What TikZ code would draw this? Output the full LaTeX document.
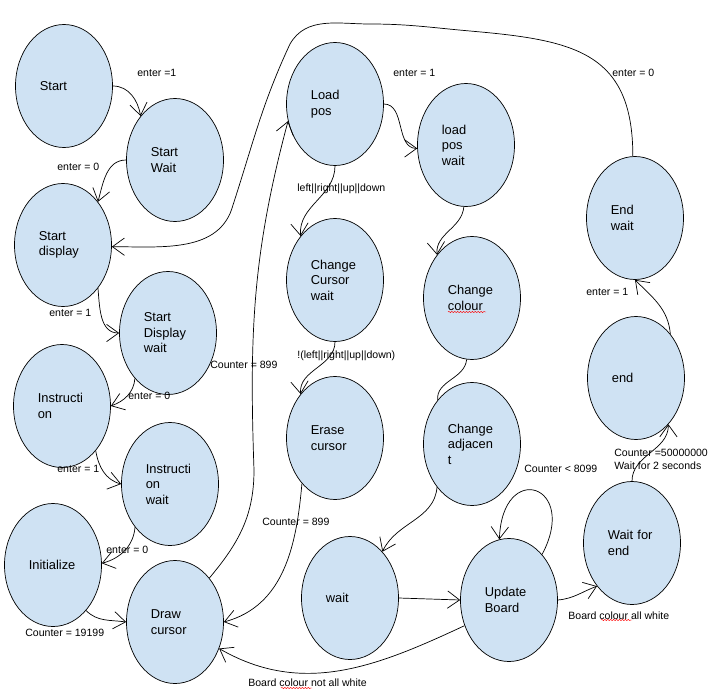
\documentclass[tikz,border=0pt]{standalone}
\usepackage{fontspec}
\setmainfont{Liberation Sans}
\usetikzlibrary{positioning, arrows.meta, shapes, decorations.pathmorphing}

\definecolor{statefill}{HTML}{CFE2F3}

\begin{document}
\begin{tikzpicture}[
		x=0.03cm, y=-0.03cm,
		every state/.style={ellipse, draw, line width=0.6pt, fill=statefill, minimum width=2.91cm, minimum height=3.69cm, text width=1.45cm, align=left, font=\fontsize{11}{13.2}\selectfont},
		cond/.style={anchor=west, inner sep=0pt, align=left, font=\fontsize{9}{11}\selectfont},
		spellerr/.style={red, line width=0.4pt, decorate, decoration={snake, amplitude=0.5pt, segment length=2.5pt}},
		every path/.style={line width=0.6pt},
		>={Straight Barb[length=3.6mm, width=5.2mm]}
	]

	\useasboundingbox (0,0) rectangle (722,694);

	\foreach \n/\x/\y/\t in {start/64/86/Start, start-wait/175/160/{Start\\Wait}, start-display/63/245/{Start\\display}, display-wait/168/333/{Start\\Display\\wait}, instruction/62/406/{Instructi\\on}, instruction-wait/170/484/{Instructi\\on\\wait}, initialize/53/565/Initialize, draw-cursor/175/622/{Draw\\cursor}, load-pos/335/104/{Load\\pos}, load-wait/466/145/{load\\pos\\wait}, cursor-wait/335/280/{Change\\Cursor\\wait}, erase-cursor/335/438/{Erase\\cursor}, change-colour/472/298/{Change\\colour}, change-adjacent/472/444/{Change\\adjacen\\t}, wait/350/598/wait, update-board/509/600/{Update\\Board}, wait-end/632/543/{Wait for\\end}, end-state/636/378/end, end-wait/635/218/{End\\wait}}
		\node [every state/.try] (\n) at (\x,\y) {\t};

	\foreach \x/\y/\t [count=\i] in {137/73/{enter =1}, 57/167/{enter = 0}, 49/313/{enter = 1}, 128/396/{enter = 0}, 57/469/{enter = 1}, 106/550/{enter = 0}, 25/633/{Counter = 19199}, 210/365/{Counter = 899}, 262/522/{Counter = 899}, 248/683/{Board colour not all white}, 393/73/{enter = 1}, 297/189/{left||right||up||down}, 297/356/{!(left||right||up||down)}, 524/469/{Counter < 8099}, 568/616/{Board colour all white}, 614/459/{Counter =50000000\\Wait for 2 seconds}, 586/292/{enter = 1}, 612/73/{enter = 0}}
		\node [cond] (cond-\i) at (\x,\y) {\t};

	\foreach \a/\b/\y in {448/486/312, 281/312/688, 601/632/620}
		\draw [spellerr] (\a,\y) -- (\b,\y);

	\draw [->] (start.0) to [out=0, in=100] (start-wait.128);
	\draw [->] (start-wait.180) to [out=180, in=75] (start-display.51);
	\draw [->] (start-display.-51) to [out=-85, in=180] (display-wait.180);
	\draw [->] (display-wait.234) to [out=265, in=20] (instruction.0);
	\draw [->] (instruction.-53) to [out=-80, in=165] (instruction-wait.180);
	\draw [->] (instruction-wait.231) to [out=265, in=15] (initialize.2);
	\draw [->] (initialize.-54) to [out=-45, in=172] (draw-cursor.180);
	\draw [->] (draw-cursor.52) to [out=50, in=270] (254,470) to [out=92, in=255] (load-pos.200);
	\draw [->] (load-pos.0) to [out=0, in=180] (load-wait.184);
	\draw [->] (load-pos.270) to [out=270, in=95] (cursor-wait.128);
	\draw [->] (load-wait.268) to [out=265, in=95] (change-colour.129);
	\draw [->] (cursor-wait.270) to [out=270, in=95] (erase-cursor.128);
	\draw [->] (erase-cursor.234) to [out=265, in=15] (draw-cursor.0);
	\draw (change-colour.265) to [out=265, in=95] (change-adjacent.128);
	\draw [->] (change-adjacent.231) to [out=265, in=65] (wait.55);
	\draw [->] (wait.0) -- (update-board.180);
	\draw [->] (update-board.54) to [out=62, in=88, looseness=4.5] (update-board.99);
	\draw [->] (update-board.210) to [out=205, in=-30] (draw-cursor.-31);
	\draw [->] (update-board.0) to [out=5, in=200] (wait-end.231);
	\draw [->] (wait-end.90) to [out=90, in=-90] (end-state.-55);
	\draw [->] (end-state.52) to [out=95, in=-45] (end-wait.270);
	\draw [->] (end-wait.92) to [out=90, in=-5, looseness=1.3] (470,31) to [out=175, in=0] (370,24) to [out=180, in=60] (290,44) to [out=245, in=72] (233,205) to [out=255, in=0] (start-display.-2);
\end{tikzpicture}
\end{document}
